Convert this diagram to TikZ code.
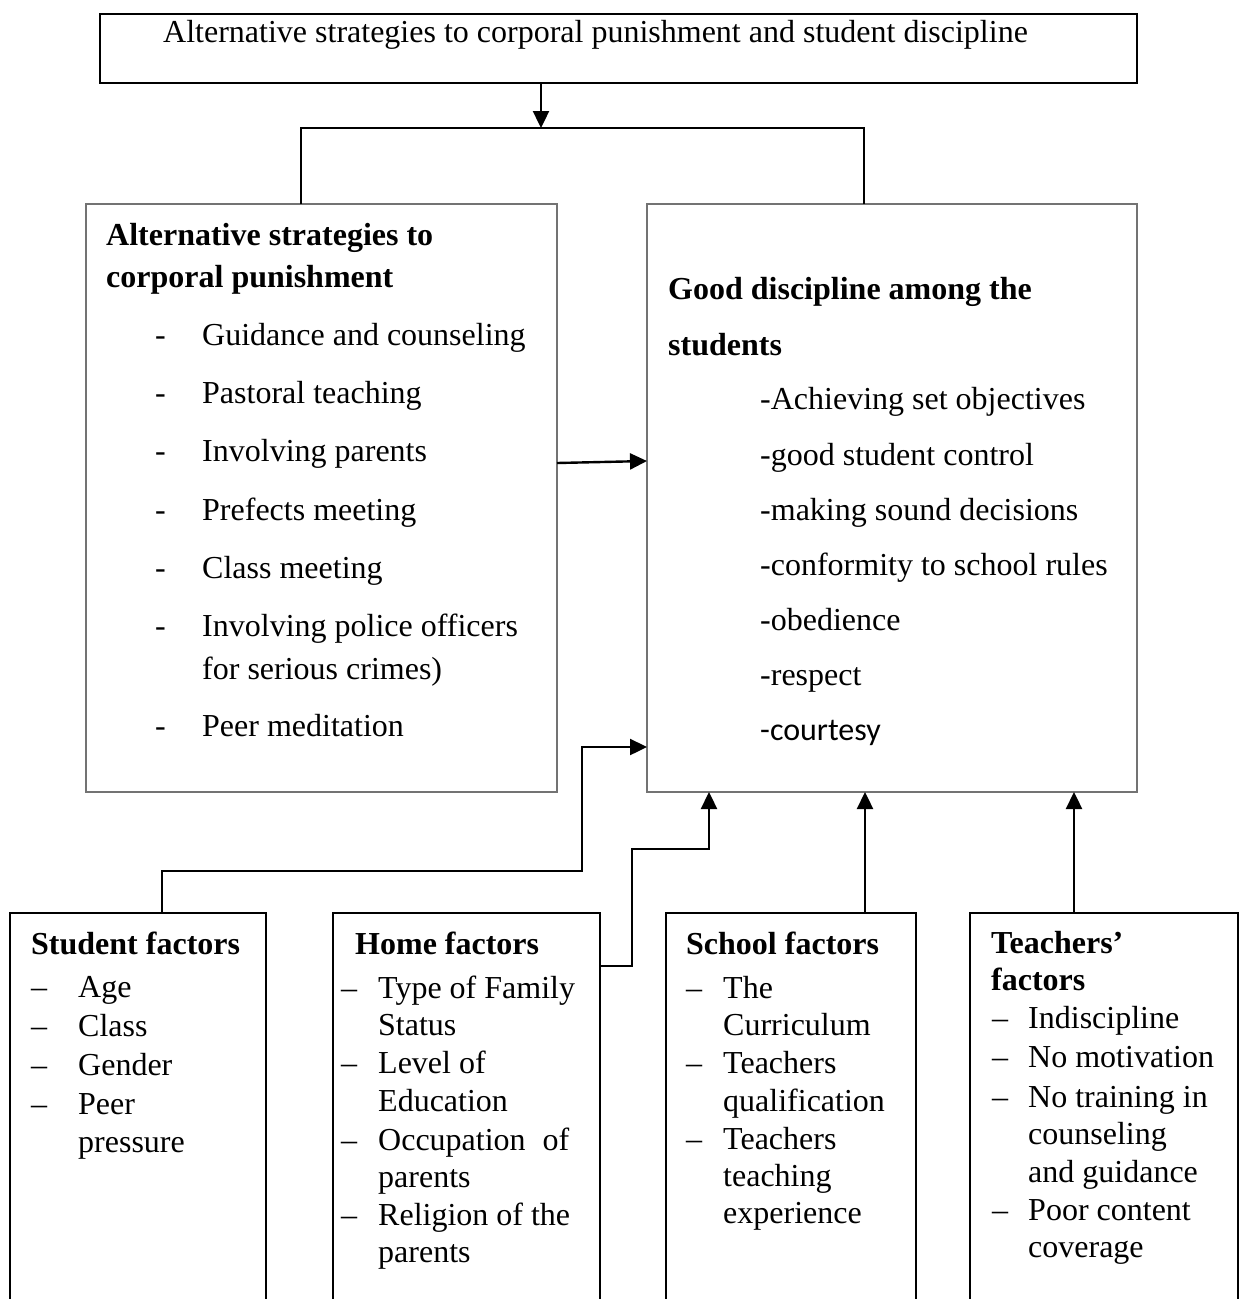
\documentclass[tikz,border=0pt]{standalone}
\usepackage{fontspec}
\setmainfont{Liberation Serif}
\newfontfamily\calibrifont{Carlito}
\usetikzlibrary{arrows.meta}
\begin{document}
\begin{tikzpicture}[x=1pt,y=-1pt,
  box/.style={draw, anchor=north west, inner sep=0pt, outer sep=0pt},
  graybox/.style={box, draw=black!55, line width=1.3pt},
  blackbox/.style={box, draw=black, line width=1.8pt},
  txt/.style={anchor=base west, inner sep=0pt, font=\fontsize{32}{38}\selectfont},
  btxt/.style={anchor=base west, inner sep=0pt, font=\fontsize{32}{38}\selectfont\bfseries},
  ctxt/.style={anchor=base west, inner sep=0pt, font=\fontsize{32}{38}\selectfont\calibrifont},
  conn/.style={draw=black, line width=2.4pt},
  arr/.style={conn, -{Triangle[length=17pt,width=16pt]}}
]
\useasboundingbox (0,0) rectangle (1243,1299);
\clip (0,0) rectangle (1243,1299);
\fill[white] (0,0) rectangle (1243,1299);

% boxes
\node[blackbox, minimum width=1037pt, minimum height=69pt] (top) at (100,14) {};
\node[graybox, minimum width=471pt, minimum height=588pt] (alt) at (86,204) {};
\node[graybox, minimum width=490pt, minimum height=588pt] (good) at (647,204) {};
\node[blackbox, minimum width=256pt, minimum height=420pt] (sf) at (10,913) {};
\node[blackbox, minimum width=267pt, minimum height=420pt] (hf) at (333,913) {};
\node[blackbox, minimum width=250pt, minimum height=420pt] (scf) at (666,913) {};
\node[blackbox, minimum width=268pt, minimum height=420pt] (tf) at (970,913) {};

% title
\node[txt] (t0) at (163,42) {Alternative strategies to corporal punishment and student discipline};

% left box
\node[btxt] (a0) at (106,245) {Alternative strategies to};
\node[btxt] (a1) at (106,287) {corporal punishment};
\foreach \n/\y/\t in {1/345/Guidance and counseling, 2/403/Pastoral teaching, 3/461/Involving parents, 4/520/Prefects meeting, 5/578/Class meeting, 6/636/Involving police officers, 7/736/Peer meditation}{
  \node[txt] (ad\n) at (155,\y) {-};
  \node[txt] (ai\n) at (202,\y) {\t};
}
\node[txt] (ai6b) at (202,679) {for serious crimes)};

% right box
\node[btxt] (g0) at (668,299) {Good discipline among the};
\node[btxt] (g1) at (668,355) {students};
\node[txt] (g2) at (760,409) {-Achieving set objectives};
\node[txt] (g3) at (760,465) {-good student control};
\node[txt] (g4) at (760,520) {-making sound decisions};
\node[txt] (g5) at (760,575) {-conformity to school rules};
\node[txt] (g6) at (760,630) {-obedience};
\node[txt] (g7) at (760,685) {-respect};
\node[ctxt] (g8) at (760,740) {-courtesy};

% student factors
\node[btxt] (s0) at (31,954) {Student factors};
\foreach \n/\y/\t in {1/997/Age, 2/1036/Class, 3/1075/Gender, 4/1114/Peer}{
  \node[txt] (sd\n) at (31,\y) {–};
  \node[txt] (si\n) at (78,\y) {\t};
}
\node[txt] (si5) at (78,1152) {pressure};

% home factors
\node[btxt] (h0) at (355,954) {Home factors};
\foreach \n/\y/\t in {1/998/Type of Family, 2/1073/Level of, 3/1150/Occupation\hspace{17pt}of, 4/1225/Religion of the}{
  \node[txt] (hd\n) at (341,\y) {–};
  \node[txt] (hi\n) at (378,\y) {\t};
}
\node[txt] (hi1b) at (378,1035) {Status};
\node[txt] (hi2b) at (378,1111) {Education};
\node[txt] (hi3b) at (378,1187) {parents};
\node[txt] (hi4b) at (378,1262) {parents};

% school factors
\node[btxt] (c0) at (686,954) {School factors};
\foreach \n/\y/\t in {1/998/The, 2/1073/Teachers, 3/1149/Teachers}{
  \node[txt] (cd\n) at (686,\y) {–};
  \node[txt] (ci\n) at (723,\y) {\t};
}
\node[txt] (ci1b) at (723,1035) {Curriculum};
\node[txt] (ci2b) at (723,1111) {qualification};
\node[txt] (ci3b) at (723,1186) {teaching};
\node[txt] (ci3c) at (723,1223) {experience};

% teachers factors
\node[btxt] (e0) at (991,953) {Teachers’};
\node[btxt] (e1) at (991,990) {factors};
\foreach \n/\y/\t in {1/1028/Indiscipline, 2/1067/No motivation, 3/1107/No training in, 4/1220/Poor content}{
  \node[txt] (ed\n) at (992,\y) {–};
  \node[txt] (ei\n) at (1028,\y) {\t};
}
\node[txt] (ei3b) at (1028,1144) {counseling};
\node[txt] (ei3c) at (1028,1182) {and guidance};
\node[txt] (ei4b) at (1028,1257) {coverage};

% connectors
\coordinate (j) at (541,128);
\draw[arr] (top.south -| j) -- (j);
\draw[conn] ([xshift=215pt]alt.north west) |- (j) -| ([xshift=217pt]good.north west);
\draw[arr] ([yshift=-259pt]alt.north east) -- ([yshift=-257pt]good.north west);
\coordinate (s1) at (582,871);
\draw[arr] ([xshift=152pt]sf.north west) |- (s1) |- ([yshift=-543pt]good.north west);
\coordinate (h1) at (632,849);
\draw[arr] ([yshift=-53pt]hf.north east) -| (h1) -| ([xshift=62pt]good.south west);
\draw[arr] ([xshift=199pt]scf.north west) -- ([xshift=199pt]scf.north west |- good.south);
\draw[arr] ([xshift=104pt]tf.north west) -- ([xshift=104pt]tf.north west |- good.south);
\end{tikzpicture}
\end{document}
